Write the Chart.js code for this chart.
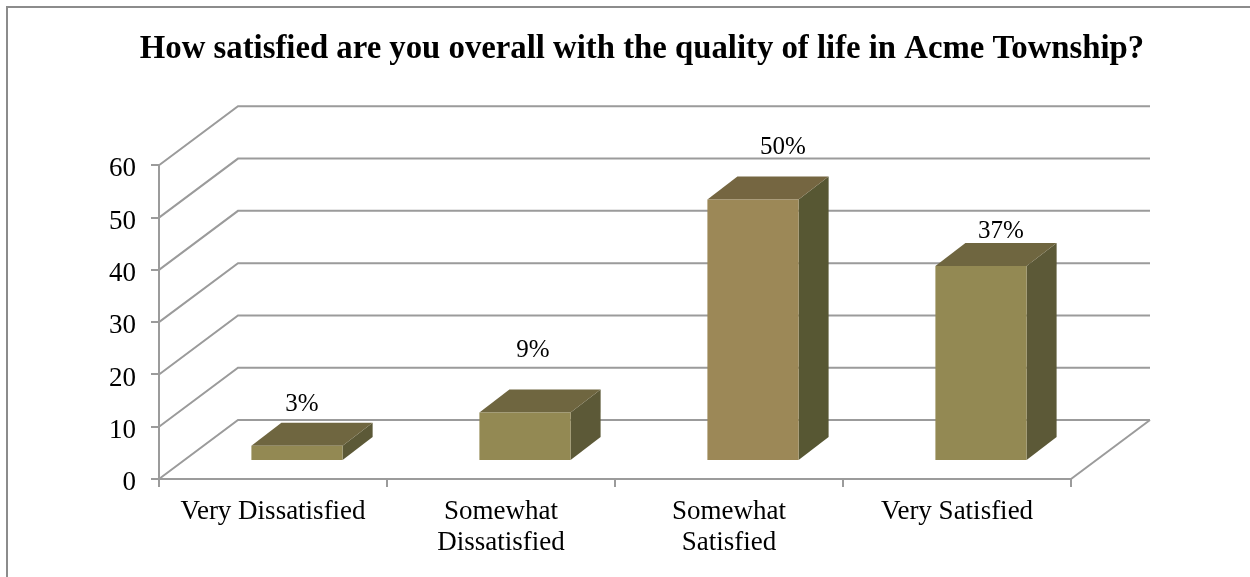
<!DOCTYPE html>
<html>
<head>
<meta charset="utf-8">
<title>Quality of life</title>
<script src="https://cdn.jsdelivr.net/npm/chart.js@4/dist/chart.umd.min.js"></script>
<style>
  html, body { margin: 0; padding: 0; background: #fff; overflow: hidden; }
  canvas { display: block; }
</style>
</head>
<body>
<canvas id="qualityChart" width="1250" height="577"></canvas>
<script>
const categories = [['Very Dissatisfied'], ['Somewhat', 'Dissatisfied'], ['Somewhat', 'Satisfied'], ['Very Satisfied']];
const barValues = [2.9, 9.3, 50, 37.3];
const barLabels = ['3%', '9%', '50%', '37%'];
const gridValues = [0, 10, 20, 30, 40, 50, 60];

const frontColors = ['#938953', '#938953', '#9c8857', '#938953'];
const topColors = ['#6f6640', '#6f6640', '#756641', '#6f6640'];
const sideColors = ['#5c5937', '#5c5937', '#575733', '#5c5937'];

const GRID = '#9b9b9b';
const FONT = '"Liberation Serif", "Times New Roman", serif';

// 3d look, all in pixels
const wallDepth = { x: 79, y: 59 };
const barShift = { x: 24, y: 18 };
const barDepth = { x: 30, y: 23 };
// labels were placed by hand in the original
const labelNudge = [[5, -41], [8, -62], [30, -52], [20, -35]];

function polygon(ctx, pts, color) {
    ctx.fillStyle = color;
    ctx.beginPath();
    ctx.moveTo(pts[0][0], pts[0][1]);
    pts.slice(1).forEach((p) => ctx.lineTo(p[0], p[1]));
    ctx.closePath();
    ctx.fill();
}

const fakeThreeD = {
    id: 'fakeThreeD',

    beforeDraw(chart) {
        // frame of the picture, only top and left are visible
        const ctx = chart.ctx;
        ctx.save();
        ctx.strokeStyle = '#8c8c8c';
        ctx.lineWidth = 2;
        ctx.beginPath();
        ctx.moveTo(7, chart.height);
        ctx.lineTo(7, 7);
        ctx.lineTo(chart.width, 7);
        ctx.stroke();
        ctx.restore();
    },

    beforeDatasetsDraw(chart) {
        const ctx = chart.ctx;
        const area = chart.chartArea;
        const y = chart.scales.y;

        ctx.save();
        ctx.strokeStyle = GRID;
        ctx.lineWidth = 2;
        gridValues.forEach((v) => {
            const py = y.getPixelForValue(v);
            ctx.beginPath();
            ctx.moveTo(area.left, py);
            ctx.lineTo(area.left + wallDepth.x, py - wallDepth.y);
            ctx.lineTo(area.right + wallDepth.x, py - wallDepth.y);
            ctx.stroke();
        });
        // right edge of the floor
        const floor = y.getPixelForValue(0);
        ctx.beginPath();
        ctx.moveTo(area.right, floor);
        ctx.lineTo(area.right + wallDepth.x, floor - wallDepth.y);
        ctx.stroke();
        ctx.restore();
    },

    beforeDatasetDraw(chart) {
        const ctx = chart.ctx;
        const bars = chart.getDatasetMeta(0).data;

        ctx.save();
        ctx.translate(barShift.x, -barShift.y);

        bars.forEach((bar, i) => {
            const l = bar.x - bar.width / 2;
            const r = bar.x + bar.width / 2;
            const t = bar.y;
            const b = bar.base;
            const dx = barDepth.x;
            const dy = barDepth.y;
            polygon(ctx, [[r, t], [r + dx, t - dy], [r + dx, b - dy], [r, b]], sideColors[i]);
            polygon(ctx, [[l, t], [l + dx, t - dy], [r + dx, t - dy], [r, t]], topColors[i]);
        });
    },

    afterDatasetDraw(chart) {
        chart.ctx.restore();
    },

    afterDatasetsDraw(chart) {
        const ctx = chart.ctx;
        const bars = chart.getDatasetMeta(0).data;

        ctx.save();
        ctx.fillStyle = '#000';
        ctx.font = '25px ' + FONT;
        ctx.textAlign = 'center';
        ctx.textBaseline = 'middle';
        bars.forEach((bar, i) => {
            ctx.fillText(barLabels[i],
                bar.x + barShift.x + labelNudge[i][0],
                bar.y - barShift.y + labelNudge[i][1]);
        });
        ctx.restore();
    }
};

new Chart(document.getElementById('qualityChart'), {
    type: 'bar',
    data: {
        labels: categories,
        datasets: [{
            data: barValues,
            backgroundColor: frontColors,
            borderWidth: 0,
            barPercentage: 0.4,
            categoryPercentage: 1,
            clip: false
        }]
    },
    plugins: [fakeThreeD],
    options: {
        responsive: false,
        animation: false,
        layout: { padding: { left: 34, right: 0, top: 0, bottom: 0 } },
        plugins: {
            legend: { display: false },
            tooltip: { enabled: false },
            title: {
                display: true,
                text: 'How satisfied are you overall with the quality of life in Acme Township?',
                color: '#000',
                font: { family: FONT, size: 32.75, weight: 'bold', lineHeight: 1.2 },
                padding: { top: 30, bottom: 96 }
            }
        },
        scales: {
            x: {
                grid: { drawOnChartArea: false, color: GRID, lineWidth: 2, tickLength: 8 },
                border: { color: GRID, width: 2 },
                ticks: {
                    color: '#000',
                    font: { family: FONT, size: 27, lineHeight: 1.15 },
                    padding: 9,
                    maxRotation: 0,
                    autoSkip: false
                },
                afterFit(scale) { scale.height = 98; }
            },
            y: {
                min: 0,
                max: 60,
                grid: { drawOnChartArea: false, color: GRID, lineWidth: 2, tickLength: 8 },
                border: { color: GRID, width: 2 },
                ticks: {
                    stepSize: 10,
                    color: '#000',
                    font: { family: FONT, size: 27 },
                    padding: 15,
                    labelOffset: 4
                },
                afterFit(scale) { scale.width = 125; }
            },
            // empty axis, holds the space right of the plot so the title stays centred
            spacer: {
                position: 'right',
                grid: { display: false },
                border: { display: false },
                ticks: { display: false },
                afterFit(scale) { scale.width = 179; }
            }
        }
    }
});
</script>
</body>
</html>
